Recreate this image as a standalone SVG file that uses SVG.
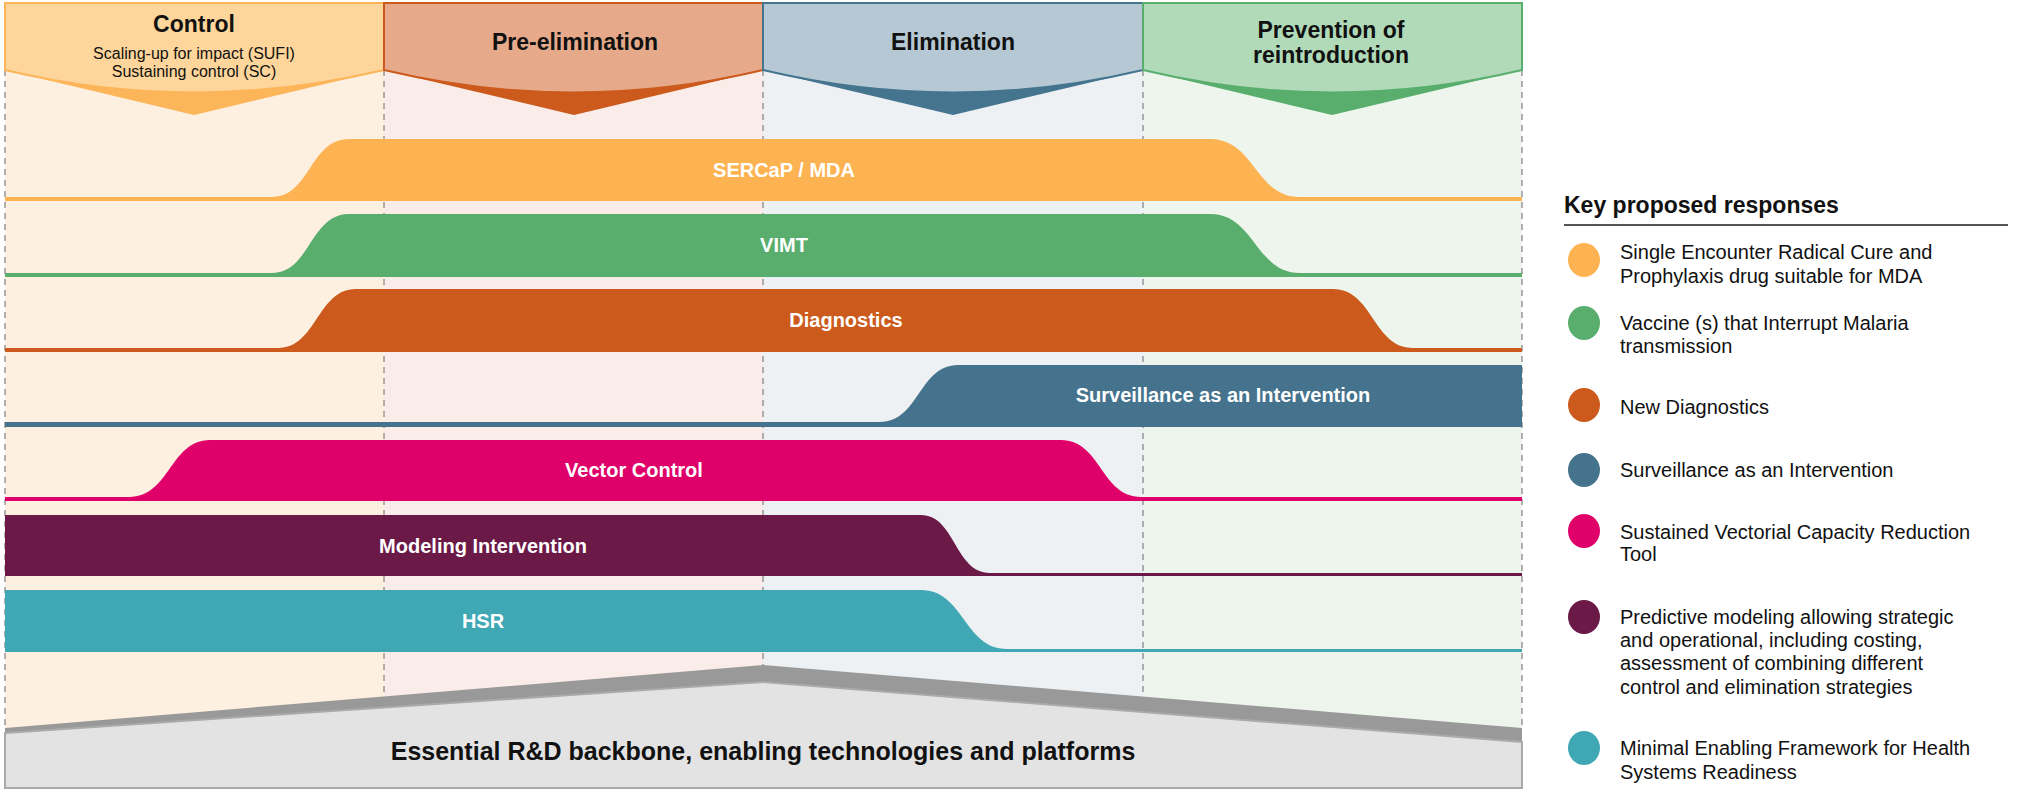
<svg xmlns="http://www.w3.org/2000/svg" width="2029" height="800" viewBox="0 0 2029 800">
<style>
.hd{font-family:"Liberation Sans",Arial,sans-serif;font-weight:bold;font-size:23px;fill:#111;text-anchor:middle}
.sub{font-family:"Liberation Sans",Arial,sans-serif;font-size:16px;fill:#111;text-anchor:middle}
.bl{font-family:"Liberation Sans",Arial,sans-serif;font-weight:bold;font-size:20px;fill:#fff;text-anchor:middle}
.lg{font-family:"Liberation Sans",Arial,sans-serif;font-size:20px;fill:#111}
.dash{stroke:#888;stroke-width:1.3;stroke-dasharray:6,5}
</style>
<rect width="2029" height="800" fill="#fff"/>
<g id="columns">
<rect x="5" y="3" width="379" height="730" fill="#fdf0e0"/>
<rect x="384" y="3" width="379" height="730" fill="#faece8"/>
<rect x="763" y="3" width="380" height="730" fill="#edf1f4"/>
<rect x="1143" y="3" width="379" height="730" fill="#edf5ec"/>
</g>
<g id="dashes">
<line class="dash" x1="5" y1="70" x2="5" y2="730"/>
<line class="dash" x1="384" y1="70" x2="384" y2="730"/>
<line class="dash" x1="763" y1="70" x2="763" y2="730"/>
<line class="dash" x1="1143" y1="70" x2="1143" y2="730"/>
<line class="dash" x1="1522" y1="70" x2="1522" y2="730"/>
</g>
<g id="h-control">
<path d="M5,3H384V70L194,115L5,70Z" fill="#fdb55a"/>
<path d="M5,3H384V70Q194,115 5,70Z" fill="#fed59a" stroke="#fdb55a" stroke-width="2"/>
<text class="hd" x="194" y="32">Control</text>
<text class="sub" x="194" y="59">Scaling-up for impact (SUFI)</text>
<text class="sub" x="194" y="77">Sustaining control (SC)</text>
</g>
<g id="h-pre">
<path d="M384,3H763V70L574,115L384,70Z" fill="#cc5a1c"/>
<path d="M384,3H763V70Q574,115 384,70Z" fill="#e6a98a" stroke="#cc5a1c" stroke-width="2"/>
<text class="hd" x="575" y="50">Pre-elimination</text>
</g>
<g id="h-elim">
<path d="M763,3H1143V70L953,115L763,70Z" fill="#45748f"/>
<path d="M763,3H1143V70Q953,115 763,70Z" fill="#b5c8d3" stroke="#45748f" stroke-width="2"/>
<text class="hd" x="953" y="50">Elimination</text>
</g>
<g id="h-prev">
<path d="M1143,3H1522V70L1332,115L1143,70Z" fill="#59ae6e"/>
<path d="M1143,3H1522V70Q1332,115 1143,70Z" fill="#b0dab8" stroke="#59ae6e" stroke-width="2"/>
<text class="hd" x="1331" y="38">Prevention of</text>
<text class="hd" x="1331" y="63">reintroduction</text>
</g>
<g id="b-sercap">
<path d="M5,197H272C310,197 310,139 349,139H1210C1255,139 1255,197 1300,197H1522V201H5Z" fill="#fdb352"/>
<text class="bl" x="784" y="177">SERCaP / MDA</text>
</g>
<g id="b-vimt">
<path d="M5,273H272C310,273 310,214 349,214H1210C1255,214 1255,273 1300,273H1522V277H5Z" fill="#59ae6e"/>
<text class="bl" x="784" y="252">VIMT</text>
</g>
<g id="b-diag">
<path d="M5,348H278C317,348 317,289 356,289H1333C1373,289 1373,348 1413,348H1522V352H5Z" fill="#cc5a1c"/>
<text class="bl" x="846" y="327">Diagnostics</text>
</g>
<g id="b-surv">
<path d="M5,422H880C919,422 919,365 958,365H1522V427H5Z" fill="#45728c"/>
<text class="bl" x="1223" y="402">Surveillance as an Intervention</text>
</g>
<g id="b-vector">
<path d="M5,497H129C170,497 170,440 210,440H1061C1101,440 1101,497 1141,497H1522V501H5Z" fill="#e0006a"/>
<text class="bl" x="634" y="477">Vector Control</text>
</g>
<g id="b-model">
<path d="M5,515H921C955,515 955,573 990,573H1522V576H5Z" fill="#6b1a48"/>
<text class="bl" x="483" y="553">Modeling Intervention</text>
</g>
<g id="b-hsr">
<path d="M5,590H921C964,590 964,649 1007,649H1522V652H5Z" fill="#40a8b5"/>
<text class="bl" x="483" y="628">HSR</text>
</g>
<g id="rd">
<path d="M5,728L763,665L1522,728V788H5Z" fill="#999"/>
<path d="M5,733L763,682L1522,742V788H5Z" fill="#e3e3e3" stroke="#aaa" stroke-width="2"/>
<text x="763" y="760" font-family="'Liberation Sans',Arial,sans-serif" font-weight="bold" font-size="25" fill="#111" text-anchor="middle">Essential R&amp;D backbone, enabling technologies and platforms</text>
</g>
<g id="legend">
<text x="1564" y="213" font-family="'Liberation Sans',Arial,sans-serif" font-weight="bold" font-size="23" fill="#111">Key proposed responses</text>
<line x1="1564" y1="225" x2="2008" y2="225" stroke="#555" stroke-width="2"/>
<ellipse cx="1584" cy="260" rx="16" ry="17" fill="#fdb352"/>
<text class="lg" x="1620" y="259">Single Encounter Radical Cure and</text>
<text class="lg" x="1620" y="283">Prophylaxis drug suitable for MDA</text>
<ellipse cx="1584" cy="323" rx="16" ry="17" fill="#59ae6e"/>
<text class="lg" x="1620" y="330">Vaccine (s) that Interrupt Malaria</text>
<text class="lg" x="1620" y="353">transmission</text>
<ellipse cx="1584" cy="405" rx="16" ry="17" fill="#cc5a1c"/>
<text class="lg" x="1620" y="414">New Diagnostics</text>
<ellipse cx="1584" cy="470" rx="16" ry="17" fill="#45728c"/>
<text class="lg" x="1620" y="477">Surveillance as an Intervention</text>
<ellipse cx="1584" cy="531" rx="16" ry="17" fill="#e0006a"/>
<text class="lg" x="1620" y="539">Sustained Vectorial Capacity Reduction</text>
<text class="lg" x="1620" y="561">Tool</text>
<ellipse cx="1584" cy="617" rx="16" ry="17" fill="#6b1a48"/>
<text class="lg" x="1620" y="624">Predictive modeling allowing strategic</text>
<text class="lg" x="1620" y="647">and operational, including costing,</text>
<text class="lg" x="1620" y="670">assessment of combining different</text>
<text class="lg" x="1620" y="694">control and elimination strategies</text>
<ellipse cx="1584" cy="748" rx="16" ry="17" fill="#40a8b5"/>
<text class="lg" x="1620" y="755">Minimal Enabling Framework for Health</text>
<text class="lg" x="1620" y="779">Systems Readiness</text>
</g>
</svg>
